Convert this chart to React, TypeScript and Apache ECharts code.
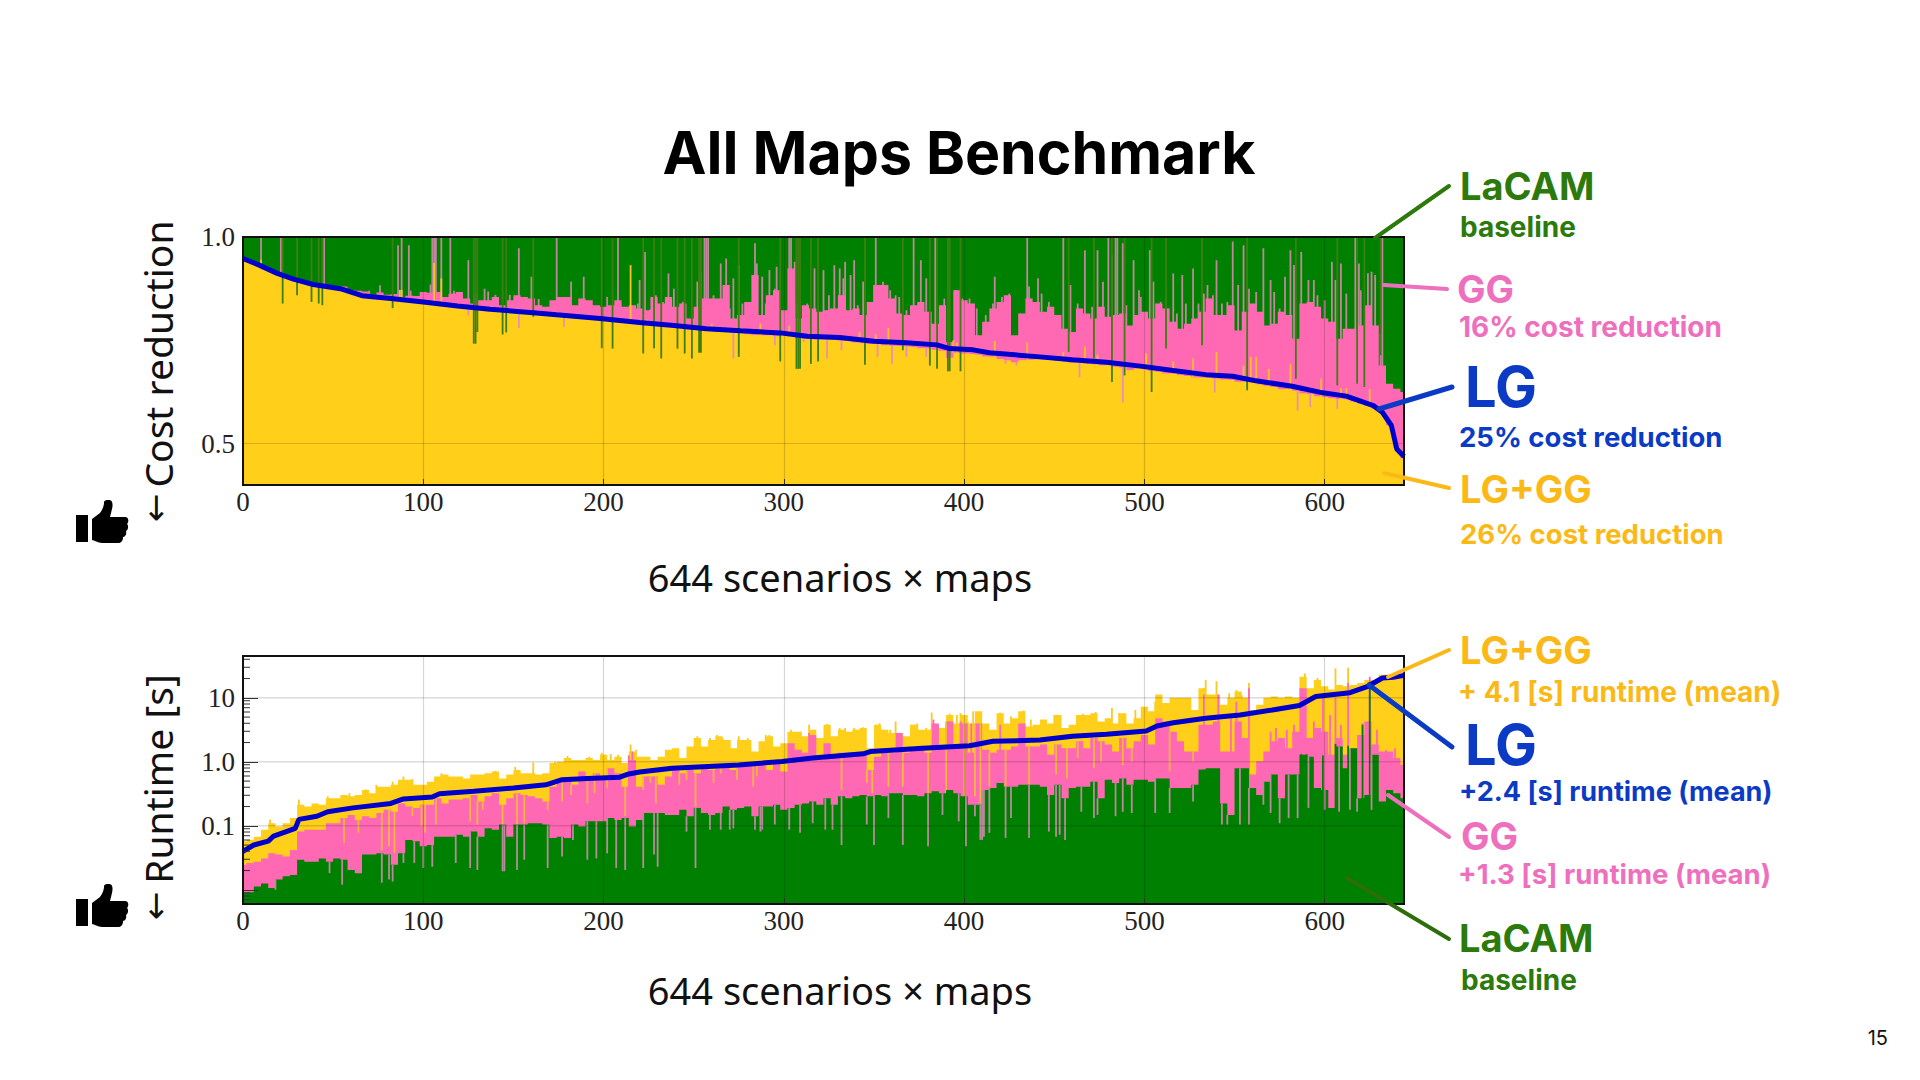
import React, { useEffect, useRef } from "react";
import * as echarts from "echarts";

const GREEN = "#008000";
const PINK = "#ff69b4";
const YELLOW = "#ffcf19";
const BLUE = "#0000cd";
const SAMPLE_STEP = 4;
const SCENARIOS = 644;

const xTickValues = [0, 100, 200, 300, 400, 500, 600];
const costTickValues = [0.5, 1.0];
const runtimeTickLabels = [0.1, 1, 10];
const runtimeMinorTicks = [
  0.007, 0.008, 0.009, 0.02, 0.03, 0.04, 0.05, 0.06, 0.07, 0.08, 0.09, 0.2, 0.3, 0.4, 0.5, 0.6, 0.7, 0.8, 0.9, 2, 3, 4, 5, 6, 7, 8, 9, 20, 30, 40,
];

// ---------- Cost reduction chart ----------
const costLacamX = [0, 644];
const costLacam = [1, 1];
const costGG = [
  0.945, 0.94, 0.935, 0.928, 0.918, 0.912, 0.905, 0.9, 0.895, 0.893, 0.885, 0.882, 0.88, 0.878, 0.88, 0.872, 0.87, 0.868, 0.86, 0.866, 0.86, 0.862, 0.855, 0.858, 0.857,
  0.867, 0.865, 0.867, 0.855, 0.863, 0.867, 0.851, 0.839, 0.847, 0.847, 0.855, 0.835, 0.847, 0.859, 0.855, 0.851, 0.835, 0.831, 0.847, 0.855, 0.855, 0.835, 0.851, 0.847, 0.835, 0.831, 0.835, 0.847, 0.831, 0.835, 0.827,
  0.823, 0.855, 0.839, 0.855, 0.831, 0.839, 0.803, 0.831, 0.851, 0.851, 0.851, 0.884, 0.803, 0.811, 0.843, 0.908, 0.811, 0.859, 0.871, 0.823, 0.924, 0.803, 0.835, 0.827, 0.819, 0.823, 0.827, 0.859, 0.823, 0.827, 0.811, 0.843, 0.884, 0.884, 0.851, 0.815, 0.811, 0.835, 0.843, 0.819, 0.79, 0.835, 0.746, 0.871, 0.847, 0.839, 0.762, 0.795, 0.827, 0.843, 0.859, 0.762, 0.815, 0.851, 0.843,
  0.819, 0.831, 0.811, 0.778, 0.77, 0.827, 0.815, 0.803, 0.831, 0.807, 0.811, 0.815, 0.786, 0.811, 0.819, 0.803, 0.839, 0.827, 0.795, 0.778, 0.79, 0.803, 0.819, 0.851, 0.811, 0.811, 0.835, 0.774, 0.819, 0.839, 0.819, 0.786, 0.79, 0.819, 0.811, 0.754, 0.839, 0.843, 0.831, 0.803, 0.795, 0.754, 0.778, 0.778, 0.786, 0.835, 0.786, 0.689, 0.645, 0.633, 0.625,
];
const costLGGG = [
  0.943, 0.938, 0.933, 0.925, 0.915, 0.908, 0.902, 0.897, 0.892, 0.887, 0.882, 0.878, 0.875, 0.872, 0.869, 0.866, 0.86, 0.853, 0.851, 0.849, 0.848, 0.846, 0.845, 0.844, 0.843,
  0.842, 0.84, 0.838, 0.836, 0.834, 0.832, 0.83, 0.828, 0.826, 0.825, 0.822, 0.82, 0.818, 0.818, 0.817, 0.816, 0.815, 0.813, 0.811, 0.808, 0.806, 0.805, 0.804, 0.803, 0.802, 0.8, 0.798, 0.797, 0.795, 0.793, 0.789,
  0.786, 0.786, 0.784, 0.782, 0.78, 0.779, 0.776, 0.775, 0.773, 0.772, 0.77, 0.77, 0.768, 0.767, 0.765, 0.763, 0.762, 0.762, 0.76, 0.762, 0.76, 0.755, 0.753, 0.752, 0.752, 0.752, 0.751, 0.749, 0.748, 0.745, 0.743, 0.741, 0.741, 0.738, 0.737, 0.736, 0.735, 0.734, 0.731, 0.73, 0.727, 0.725, 0.708, 0.72, 0.718, 0.717, 0.715, 0.711, 0.71, 0.705, 0.702, 0.697, 0.702, 0.703, 0.704,
  0.703, 0.703, 0.7, 0.699, 0.696, 0.697, 0.693, 0.692, 0.69, 0.691, 0.686, 0.684, 0.678, 0.682, 0.68, 0.676, 0.674, 0.67, 0.67, 0.666, 0.664, 0.66, 0.66, 0.66, 0.657, 0.655, 0.654, 0.65, 0.65, 0.648, 0.644, 0.64, 0.637, 0.632, 0.632, 0.628, 0.622, 0.62, 0.615, 0.613, 0.61, 0.608, 0.607, 0.602, 0.597, 0.592, 0.585, 0.574, 0.545, 0.49, 0.465,
];
const costLGX = [0, 9, 19, 28, 39, 54, 66, 82, 100, 119, 137, 161, 174, 198, 220, 239, 257, 276, 298, 313, 331, 350, 368, 385, 392, 405, 414, 442, 460, 479, 499, 516, 534, 549, 562, 582, 599, 612, 627, 632, 637, 640, 644];
const costLG = [0.948, 0.932, 0.912, 0.898, 0.885, 0.875, 0.858, 0.851, 0.843, 0.833, 0.825, 0.817, 0.812, 0.803, 0.793, 0.786, 0.778, 0.773, 0.768, 0.76, 0.757, 0.748, 0.744, 0.739, 0.73, 0.727, 0.72, 0.71, 0.703, 0.697, 0.687, 0.677, 0.667, 0.663, 0.652, 0.639, 0.623, 0.615, 0.592, 0.576, 0.544, 0.487, 0.469];
const costPinkUp = [
  [10, 1], [21, 1], [45, 1], [70, 0.87], [76, 0.883], [86, 0.98], [88, 1], [92, 0.98], [93, 0.87], [104, 0.885], [105, 1], [106, 1], [107, 1], [110, 1], [115, 1], [117, 0.87], [125, 0.944], [129, 0.859], [134, 0.875], [136, 0.868], [140, 0.86], [148, 0.86], [153, 0.973], [160, 0.904], [164, 0.85], [174, 1], [178, 0.85], [182, 0.892], [189, 0.904], [208, 1], [202, 0.855], [219, 0.839],
  [220, 0.896], [223, 0.964], [226, 0.825], [229, 0.859], [233, 0.843], [236, 0.912], [239, 0.875], [244, 0.843], [252, 0.892], [254, 0.916], [256, 1], [257, 1], [258, 1], [261, 0.859], [265, 0.936], [268, 0.948], [270, 0.827], [272, 0.9], [275, 0.932], [277, 0.839], [280, 0.839], [284, 0.985], [285, 0.936], [288, 0.904], [290, 0.839], [292, 0.92], [295, 0.875], [296, 0.928], [299, 0.819], [303, 1], [304, 1], [306, 0.94], [307, 0.839], [313, 0.839], [317, 0.924], [320, 0.819], [322, 0.92], [325, 0.859], [326, 0.827], [328, 0.932], [331, 0.924], [333, 0.9], [334, 0.94], [337, 0.908], [339, 0.944], [341, 0.835], [344, 0.892], [350, 0.884], [351, 1], [353, 0.884], [355, 0.892], [359, 0.871], [362, 0.859], [364, 0.855], [368, 0.823], [372, 1], [375, 0.839], [376, 0.944], [379, 0.9], [382, 0.79], [384, 1], [387, 0.79], [389, 0.851], [395, 0.871], [396, 0.871], [399, 0.851], [403, 0.851], [407, 0.827], [412, 0.811], [416, 0.839], [417, 0.904], [421, 0.855], [425, 0.863], [431, 0.815], [435, 1], [436, 0.88], [441, 0.9],
  [443, 0.863], [447, 0.843], [449, 0.827], [455, 1], [459, 0.884], [463, 0.839], [465, 0.823], [467, 0.968], [471, 0.831], [474, 0.968], [477, 0.892], [480, 1], [482, 0.956], [484, 1], [485, 1], [488, 0.985], [490, 0.835], [494, 0.944], [497, 0.871], [498, 0.855], [503, 0.968], [505, 0.892], [509, 0.843], [513, 0.827], [516, 0.912], [518, 0.815], [521, 0.908], [523, 0.839], [527, 0.924], [530, 0.839], [533, 0.863], [535, 0.884], [538, 0.859], [540, 0.944], [543, 0.839], [546, 0.843], [549, 0.989], [552, 0.884], [555, 0.98], [558, 0.875], [562, 0.867], [566, 0.973], [570, 0.896], [572, 0.867], [575, 0.827], [578, 0.904], [581, 0.968], [583, 0.932], [587, 0.964], [591, 0.896], [594, 0.896], [596, 0.859], [600, 0.847], [604, 0.94], [606, 0.896], [609, 0.936], [612, 0.863], [617, 1], [619, 0.936], [620, 0.871], [624, 0.912], [626, 0.916], [628, 0.908], [631, 0.766], [632, 1],
];
const costYellowUp = [
  [10, 0.945], [87, 0.872], [88, 0.872], [106, 0.937], [110, 0.9], [215, 0.932], [224, 0.8], [260, 0.79], [287, 0.79], [303, 0.785], [342, 0.77], [351, 0.765], [358, 0.78], [394, 0.75], [396, 0.745], [417, 0.748], [435, 0.745],
  [455, 0.722], [467, 0.735], [474, 0.715], [501, 0.718], [516, 0.699], [527, 0.706], [540, 0.722], [555, 0.689], [559, 0.71], [562, 0.71], [569, 0.681], [581, 0.693], [598, 0.657], [609, 0.634], [612, 0.634], [625, 0.632],
];
const costGreenDown = [
  [22, 0.839], [30, 0.859], [38, 0.843], [42, 0.839], [44, 0.835], [83, 0.828], [128, 0.742], [129, 0.742], [130, 0.77], [144, 0.764], [146, 0.769], [161, 0.807], [199, 0.731], [205, 0.73],
  [222, 0.718], [228, 0.731], [232, 0.706], [241, 0.73], [245, 0.718], [249, 0.706], [253, 0.72], [254, 0.72], [275, 0.71], [298, 0.699], [307, 0.681], [308, 0.681], [309, 0.681], [315, 0.693], [319, 0.699], [345, 0.691], [366, 0.726], [381, 0.689], [385, 0.681], [391, 0.675], [392, 0.675], [398, 0.675],
  [458, 0.722], [472, 0.706], [482, 0.649], [489, 0.665], [504, 0.625], [512, 0.73], [532, 0.738], [557, 0.629], [584, 0.657], [607, 0.641], [618, 0.645], [622, 0.637], [631, 0.714],
];
const costPinkDown = [
  [125, 0.81], [153, 0.78], [178, 0.782], [272, 0.706], [275, 0.718], [295, 0.738], [311, 0.746], [324, 0.706], [332, 0.726], [352, 0.71], [360, 0.693], [368, 0.71], [379, 0.71], [423, 0.693], [429, 0.689], [464, 0.661], [488, 0.6], [539, 0.624], [585, 0.58], [592, 0.588], [607, 0.584],
];

// ---------- Runtime chart (log10 of seconds) ----------
const runLGGGLog = [
  -1.24, -1.22, -1.17, -1.06, -0.96, -1.01, -0.96, -0.88, -0.67, -0.7, -0.65, -0.67, -0.57, -0.57, -0.52, -0.54, -0.52, -0.44, -0.49, -0.39, -0.39, -0.36, -0.28, -0.28, -0.36, -0.36, -0.31, -0.23, -0.2, -0.23, -0.23, -0.26, -0.2, -0.2, -0.18, -0.15, -0.26, -0.2, -0.13, -0.18, -0.18, -0.2, -0.18, -0.02, 0, 0.06, 0.03, 0.03, 0.06, 0.03, 0.11, 0.03, 0.08, -0.02, 0.16,
  0.08, 0.08, 0.03, 0.08, 0.19, 0.21, 0.06, 0.24, 0.37, 0.24, 0.34, 0.4, 0.34, 0.21, 0.34, 0.34, 0.16, 0.32, 0.4, 0.24, 0.29, 0.47, 0.47, 0.4, 0.5, 0.37, 0.58, 0.4, 0.5, 0.47, 0.5, 0.53, 0.21, 0.58, 0.5, 0.45, 0.45, 0.4, 0.58, 0.5, 0.5, 0.58, 0.53, 0.73, 0.6, 0.73, 0.6, 0.79, 0.6, 0.5, 0.76, 0.6, 0.68, 0.79, 0.55, 0.58,
  0.66, 0.6, 0.73, 0.53, 0.58, 0.73, 0.73, 0.76, 0.63, 0.68, 0.6, 0.76, 0.6, 0.68, 0.86, 0.79, 1.05, 0.92, 1, 1, 1, 0.81, 1.15, 1.05, 1.05, 0.89, 1, 1.1, 1, 0.81, 0.89, 1, 1.02, 1, 1.02, 1, 1.33, 1.15, 1.28, 1.18, 1.13, 1.2, 1.18, 1.2, 1.23, 1.28, 1.28, 1.36, 1.37, 1.36, 1.36,
];
const runGGLog = [
  -1.61, -1.58, -1.56, -1.51, -1.43, -1.45, -1.48, -1.38, -1.09, -1.06, -1.06, -1.06, -0.96, -0.96, -0.88, -0.83, -0.91, -0.85, -0.88, -0.8, -0.75, -0.78, -0.65, -0.7, -0.72, -0.67, -0.67, -0.57, -0.65, -0.59, -0.59, -0.57, -0.52, -0.62, -0.54, -0.49, -0.67, -0.57, -0.49, -0.52, -0.54, -0.57, -0.62, -0.39, -0.28, -0.28, -0.36, -0.15, -0.28, -0.18, -0.23, -0.1, -0.18, -0.39, 0.03,
  -0.39, -0.23, -0.23, -0.36, -0.23, -0.13, -0.18, -0.13, -0.18, -0.1, -0.13, -0.1, -0.07, -0.13, -0.07, -0.05, -0.07, -0.05, -0.13, 0.01, -0.15, 0.29, 0.19, 0.14, 0.42, 0.03, 0.29, 0.08, 0.14, 0.14, 0.14, 0.11, -0.13, 0.08, 0.14, 0.14, 0.45, 0.14, 0.19, 0.19, 0.14, 0.6, 0.24, 0.63, 0.24, 0.6, 0.14, 0.6, 0.19, 0.14, 0.19, 0.19, 0.24, 0.6, 0.24, 0.24,
  0.27, 0.11, 0.27, 0.21, 0.21, 0.32, 0.21, 0.37, 0.32, 0.27, 0.16, 0.37, 0.21, 0.32, 0.42, 0.27, 0.68, 0.63, 0.47, 0.32, 0.16, 0.16, 0.58, 0.58, 0.63, 0.16, 0.16, 0.63, 0.37, -0.2, 0.01, 0.16, 0.32, 0.37, 0.21, 0.47, 1.15, 0.37, 0.53, 0.47, 0.11, 0.37, 0.11, 0.21, 0.42, 0.63, 0.27, 0.16, 0.16, 0.06, -0.05,
];
const runLacamLog = [
  -2.05, -2.04, -1.95, -1.9, -1.97, -1.84, -1.79, -1.77, -1.53, -1.56, -1.56, -1.51, -1.56, -1.51, -1.53, -1.69, -1.74, -1.45, -1.45, -1.43, -1.45, -1.61, -1.43, -1.22, -1.24, -1.32, -1.3, -1.17, -1.17, -1.17, -1.14, -1.17, -1.09, -1.17, -1.04, -1.06, -0.98, -1.17, -0.98, -0.98, -0.96, -0.96, -0.98, -1.19, -1.17, -1.19, -0.98, -1.01, -0.93, -0.93, -0.93, -0.88, -0.91, -0.88, -1.01,
  -0.91, -0.8, -0.8, -0.8, -0.83, -0.83, -0.75, -0.85, -0.72, -0.8, -0.83, -0.8, -0.7, -0.75, -0.72, -0.7, -0.85, -0.7, -0.7, -0.67, -0.75, -0.72, -0.67, -0.65, -0.62, -0.67, -0.57, -0.67, -0.54, -0.57, -0.54, -0.52, -0.54, -0.52, -0.54, -0.49, -0.49, -0.52, -0.52, -0.54, -0.49, -0.46, -0.49, -0.44, -0.49, -0.54, -0.67, -0.67, -0.44, -0.41, -0.33, -0.39, -0.39, -0.36, -0.36, -0.36,
  -0.39, -0.52, -0.36, -0.57, -0.41, -0.39, -0.39, -0.31, -0.57, -0.28, -0.33, -0.26, -0.36, -0.28, -0.28, -0.31, -0.26, -0.26, -0.41, -0.41, -0.41, -0.36, -0.12, -0.1, -0.1, -0.65, -0.83, -0.1, -0.1, -0.41, -0.52, -0.31, -0.2, -0.57, -0.2, -0.2, 0.11, 0.08, -0.41, -0.44, -0.72, 0.24, -0.1, 0.21, -0.57, -0.52, 0.11, -0.62, -0.44, -0.49, -0.57,
];
const runLGX = [0, 6, 14, 17, 29, 31, 41, 47, 61, 82, 89, 105, 109, 128, 150, 168, 177, 191, 209, 214, 220, 238, 275, 299, 316, 344, 348, 377, 403, 416, 442, 460, 479, 501, 507, 516, 534, 553, 571, 586, 595, 614, 624, 632, 638, 644];
const runLGLog = [-1.4, -1.3, -1.24, -1.16, -1.04, -0.9, -0.85, -0.78, -0.72, -0.65, -0.58, -0.55, -0.5, -0.46, -0.41, -0.36, -0.28, -0.26, -0.24, -0.19, -0.16, -0.1, -0.05, 0.005, 0.06, 0.125, 0.16, 0.21, 0.25, 0.32, 0.34, 0.4, 0.43, 0.48, 0.56, 0.61, 0.68, 0.73, 0.81, 0.88, 1.02, 1.08, 1.18, 1.31, 1.32, 1.35];
const runYellowUpLog = [
  [15, -0.9], [31, -0.59], [47, -0.54], [59, -0.49], [68, -0.43], [74, -0.36], [83, -0.31], [89, -0.23], [94, -0.27], [110, -0.18], [140, -0.14], [151, -0.08], [161, -0.01], [173, 0], [180, 0.09], [192, 0.08], [199, 0.14], [204, 0.12], [208, 0.11], [215, 0.27], [218, 0.19],
  [252, 0.4], [259, 0.37], [263, 0.42], [266, 0.37], [270, 0.34], [275, 0.4], [280, 0.37], [290, 0.42], [292, 0.42], [304, 0.5], [309, 0.47], [314, 0.58], [317, 0.5], [324, 0.59], [331, 0.53], [334, 0.53], [339, 0.53], [344, 0.54], [353, 0.6], [359, 0.5], [362, 0.63], [372, 0.58], [374, 0.6], [379, 0.53], [382, 0.77], [385, 0.58], [392, 0.75], [396, 0.73], [398, 0.76], [402, 0.63], [405, 0.79], [409, 0.66], [420, 0.77], [426, 0.71], [433, 0.8], [437, 0.66],
  [450, 0.73], [453, 0.73], [466, 0.75], [473, 0.78], [482, 0.84], [486, 0.76], [495, 0.81], [499, 0.86], [506, 0.94], [509, 1.04], [515, 0.99], [524, 1], [533, 1.15], [534, 1.28], [540, 1.26], [547, 1.07], [551, 1.12], [554, 1.04], [558, 1.23], [589, 1.38], [596, 1.31], [606, 1.46], [613, 1.47],
];
const runPinkUpLog = [
  [214, 0.1], [216, 0.16], [314, 0.45], [383, 0.66], [392, 0.63], [398, 0.63], [404, 0.6], [420, 0.58], [533, 1.05], [541, 1.05], [548, 0.68], [551, 0.94], [558, 1.15], [570, 0.47], [573, 0.53], [579, 0.5], [583, 0.58], [594, 0.63], [599, 1], [603, 0.73], [606, 1], [609, 0.58], [613, 1.23], [621, 0.6], [625, 1.33], [629, 0.5], [634, 0.19], [639, 0.21],
];
const runOrangeDownLog = [
  [56, -1.27], [64, -1.11], [77, -1.38], [81, -1.32], [84, -1.43], [94, -0.85], [99, -1.01], [101, -1.11], [107, -0.98], [126, -0.93], [130, -0.98], [133, -0.75], [144, -1.14], [152, -1.01], [156, -0.96], [169, -0.75], [177, -0.62], [182, -0.52], [191, -0.65], [195, -0.49], [202, -0.41], [212, -0.85],
  [222, -0.44], [226, -0.33], [229, -0.65], [242, -0.36], [246, -0.28], [251, -0.7], [261, -0.33], [265, -0.18], [274, -0.28], [283, -0.39], [285, -0.23], [332, -0.44], [346, -0.33], [349, -0.49], [358, -0.39], [366, -0.39], [380, -0.59], [390, -0.67], [400, -0.65], [406, -0.54], [409, -0.65], [414, -0.39], [423, -0.44], [436, -0.49],
  [451, -0.2], [457, -0.26], [463, 0.06], [472, -0.1], [476, 0], [488, -0.05], [493, 0], [514, -0.15], [527, 0],
];
const runMauveDownLog = [
  [18, -2], [48, -1.74], [55, -1.92], [60, -1.64], [64, -1.69], [77, -1.89], [81, -1.84], [83, -1.87], [89, -1.58], [95, -1.58], [100, -1.66], [105, -1.64], [118, -1.58], [126, -1.66], [130, -1.69], [144, -1.71], [145, -1.71], [152, -1.69], [156, -1.53], [169, -1.66], [177, -1.48], [183, -1.22], [191, -1.53], [196, -1.51], [202, -1.43], [207, -1.66], [212, -1.69],
  [222, -1.66], [228, -1.45], [230, -1.64], [246, -1.09], [251, -1.66], [259, -1.06], [265, -1.06], [270, -1.06], [272, -1.04], [284, -1.06], [287, -1.09], [288, -1.06], [295, -0.98], [303, -1.06], [309, -1.11], [316, -0.96], [323, -1.06], [327, -1.06], [332, -1.3], [346, -0.98], [350, -1.3], [358, -0.88], [366, -1.3], [380, -1.32], [388, -0.83], [397, -0.93], [401, -1.32], [406, -0.85], [409, -1.22], [410, -1.22], [411, -1.17], [414, -1.11], [423, -1.19], [426, -0.88], [436, -1.19],
  [447, -1.09], [451, -1.17], [453, -1.14], [456, -1.22], [465, -0.78], [472, -0.88], [474, -0.83], [484, -0.85], [488, -0.78], [493, -0.8], [506, -0.8], [514, -0.8], [527, -0.62], [543, -0.98], [546, -0.98], [553, -0.98], [558, -0.98], [566, -0.67], [570, -0.8], [575, -0.96], [580, -0.88], [585, -0.88], [591, -0.72], [600, -0.75], [608, -0.78], [614, -0.75], [618, -0.78], [626, -0.75],
];
const runGreenUpLog = [[587, 0.12], [590, 0.12], [599, 0.1], [606, 0.28], [613, 0.25], [621, 0.58], [625, 1.25]];

// ---------- Texts ----------
const TITLE = "All Maps Benchmark";
const xLabel = "644 scenarios × maps";
const calloutColors = { green: "#2b7a0b", pink: "#ee6fbd", blue: "#0b3bc4", yellow: "#fbb917" };

echarts.graphic.registerShape(
  "thumb",
  echarts.graphic.extendPath(
    "M0 15 L12 15 L12 42 L0 42 Z M16 19 L24 13 C27 9 28 5 28 3 C28 0 30 0 33 0 C37 0 37 5 36 9 L34 17 L49 17 C53 17 53 22 51 24 C53 26 52 30 50 31 C51 34 49 37 47 37 C47 41 45 43 42 43 L26 43 C22 43 18 40 16 40 Z",
    {}
  )
);

const pow = (v: number) => Math.pow(10, v);
const bodyAt = (arr: number[], u: number) => arr[Math.min(arr.length - 1, Math.round(u / SAMPLE_STEP))];

function areaSeries(name: string, pts: number[][], color: string, axis: number, z: number) {
  return {
    name,
    type: "line",
    xAxisIndex: axis,
    yAxisIndex: axis,
    z,
    data: pts,
    step: "middle",
    showSymbol: false,
    symbol: "none",
    silent: true,
    lineStyle: { width: 0, color },
    itemStyle: { color },
    areaStyle: { color, opacity: 1, origin: axis === 1 ? 0.006 : "start" },
  };
}

function spikeSeries(name: string, data: number[][], color: string, axis: number, z: number, width = 1.8) {
  return {
    name,
    type: "custom",
    xAxisIndex: axis,
    yAxisIndex: axis,
    coordinateSystem: "cartesian2d",
    silent: true,
    z,
    data,
    encode: { x: 0, y: [1, 2] },
    renderItem: (_: any, api: any) => {
      const a = api.coord([api.value(0), api.value(1)]);
      const b = api.coord([api.value(0), api.value(2)]);
      return {
        type: "rect",
        shape: { x: a[0] - width / 2, y: Math.min(a[1], b[1]), width, height: Math.abs(a[1] - b[1]) },
        style: { fill: color },
      };
    },
  };
}

function frameSeries(name: string, axis: number) {
  return {
    name,
    type: "custom",
    xAxisIndex: axis,
    yAxisIndex: axis,
    coordinateSystem: "cartesian2d",
    silent: true,
    clip: false,
    z: 40,
    data: [[0, 1]],
    renderItem: (params: any) => ({
      type: "rect",
      shape: { x: params.coordSys.x, y: params.coordSys.y, width: params.coordSys.width, height: params.coordSys.height },
      style: { fill: "none", stroke: "#111", lineWidth: 2 },
    }),
  };
}

function hGridSeries(name: string, axis: number, values: number[]) {
  return {
    name,
    type: "custom",
    xAxisIndex: axis,
    yAxisIndex: axis,
    coordinateSystem: "cartesian2d",
    silent: true,
    z: 30,
    data: values.map((v) => [0, v]),
    encode: { x: 0, y: 1 },
    renderItem: (params: any, api: any) => {
      const p = api.coord([0, api.value(1)]);
      return {
        type: "rect",
        shape: { x: p[0], y: p[1] - 0.75, width: params.coordSys.width, height: 1.5 },
        style: { fill: "rgba(0,0,0,0.14)" },
      };
    },
  };
}

function minorTickSeries(values: number[]) {
  return {
    name: "minor ticks",
    type: "custom",
    xAxisIndex: 1,
    yAxisIndex: 1,
    coordinateSystem: "cartesian2d",
    silent: true,
    clip: false,
    z: 39,
    data: values.map((v) => [0, v]),
    encode: { x: 0, y: 1 },
    renderItem: (_: any, api: any) => {
      const p = api.coord([0, api.value(1)]);
      return { type: "rect", shape: { x: p[0], y: p[1] - 0.5, width: 7, height: 1 }, style: { fill: "#333" } };
    },
  };
}

function text(t: string, x: number, y: number, size: number, color: string, weight = 700, family = "Inter", extra: any = {}) {
  return {
    type: "text",
    x,
    y,
    z: 50,
    silent: true,
    ...extra,
    style: { text: t, fill: color, font: `${weight} ${size}px ${family}`, align: extra.align || "left", verticalAlign: "middle" },
  };
}

function pointer(x1: number, y1: number, x2: number, y2: number, color: string, w = 4) {
  return { type: "line", z: 49, silent: true, shape: { x1, y1, x2, y2 }, style: { stroke: color, lineWidth: w, lineCap: "round" } };
}

function thumb(x: number, y: number) {
  return { type: "thumb", x, y, z: 50, silent: true, style: { fill: "#000" } };
}

function buildOption() {
  const c = calloutColors;
  const toBody = (arr: number[], map = (v: number) => v) => arr.map((v, i) => [i * SAMPLE_STEP, map(v)]);
  const yMin = 0.4;
  const runMin = 0.006;
  const xAxisBase = (gridIndex: number) => ({
    type: "value",
    gridIndex,
    min: 0,
    max: SCENARIOS,
    z: 35,
    axisLine: { show: false },
    axisTick: { show: true, inside: true, length: 6, customValues: xTickValues, lineStyle: { color: "#333" } },
    axisLabel: { customValues: xTickValues, margin: 3, fontFamily: "Liberation Serif", fontSize: 27, color: "#222" },
    splitLine: { show: true, lineStyle: { color: "rgba(0,0,0,0.16)", width: 1.2 } },
  });
  return {
    animation: false,
    backgroundColor: "#fff",
    grid: [
      { left: 243, top: 237, width: 1161, height: 248 },
      { left: 243, top: 656, width: 1161, height: 248 },
    ],
    xAxis: [xAxisBase(0), xAxisBase(1)],
    yAxis: [
      {
        type: "value",
        gridIndex: 0,
        min: yMin,
        max: 1,
        z: 35,
        axisLine: { show: false },
        axisTick: { show: false, customValues: costTickValues },
        axisLabel: { customValues: costTickValues, margin: 8, fontFamily: "Liberation Serif", fontSize: 27, color: "#222", formatter: (v: number) => v.toFixed(1) },
        splitLine: { show: true, lineStyle: { color: "rgba(0,0,0,0.16)", width: 1.2 } },
      },
      {
        type: "log",
        gridIndex: 1,
        min: runMin,
        max: 45,
        logBase: 10,
        z: 35,
        axisLine: { show: false },
        axisTick: { show: true, inside: true, length: 15, lineStyle: { color: "#333" } },
        axisLabel: {
          margin: 8,
          fontFamily: "Liberation Serif",
          fontSize: 27,
          color: "#222",
          hideOverlap: false,
          formatter: (v: number) => {
            const m = runtimeTickLabels.find((t) => Math.abs(Math.log10(v) - Math.log10(t)) < 0.01);
            return m === undefined ? "" : m === 10 ? "10" : m.toFixed(1);
          },
        },
        splitLine: { show: false },
      },
    ],
    series: [
      areaSeries("LaCAM cost", costLacamX.map((x, i) => [x, costLacam[i]]), GREEN, 0, 2),
      spikeSeries("GG cost peaks", costPinkUp.map(([u, v]) => [u, yMin, v]), "#c0879c", 0, 3),
      areaSeries("GG cost", toBody(costGG), PINK, 0, 4),
      areaSeries("LG+GG cost", toBody(costLGGG), YELLOW, 0, 5),
      spikeSeries("LG+GG cost peaks", costYellowUp.map(([u, v]) => [u, bodyAt(costLGGG, u), v]), "#fcc02a", 0, 6),
      spikeSeries("GG cost dips", costPinkDown.map(([u, v]) => [u, v, bodyAt(costLGGG, u)]), "#e88fb4", 0, 7),
      spikeSeries("LaCAM cost dips", costGreenDown.map(([u, v]) => [u, v, 1]), "#3d7f12", 0, 8),
      {
        name: "LG cost",
        type: "line",
        xAxisIndex: 0,
        yAxisIndex: 0,
        z: 20,
        data: costLGX.map((x, i) => [x, costLG[i]]),
        showSymbol: false,
        symbol: "none",
        silent: true,
        lineStyle: { color: BLUE, width: 5 },
      },
      frameSeries("cost frame", 0),

      spikeSeries("LG+GG runtime peaks", runYellowUpLog.map(([u, v]) => [u, runMin, pow(v)]), "#fdc724", 1, 1),
      areaSeries("LG+GG runtime", toBody(runLGGGLog, pow), YELLOW, 1, 2),
      spikeSeries("GG runtime peaks", runPinkUpLog.map(([u, v]) => [u, runMin, pow(v)]), PINK, 1, 3),
      areaSeries("GG runtime", toBody(runGGLog, pow), PINK, 1, 4),
      spikeSeries("LG+GG runtime dips", runOrangeDownLog.map(([u, v]) => [u, pow(v), pow(bodyAt(runGGLog, u))]), "#f2b63c", 1, 5),
      spikeSeries("LaCAM runtime peaks", runGreenUpLog.map(([u, v]) => [u, runMin, pow(v)]), GREEN, 1, 6),
      areaSeries("LaCAM runtime", toBody(runLacamLog, pow), GREEN, 1, 7),
      spikeSeries("GG runtime dips", runMauveDownLog.map(([u, v]) => [u, pow(v), pow(bodyAt(runLacamLog, u))]), "#b98a9c", 1, 8),
      {
        name: "LG runtime",
        type: "line",
        xAxisIndex: 1,
        yAxisIndex: 1,
        z: 20,
        data: runLGX.map((x, i) => [x, pow(runLGLog[i])]),
        showSymbol: false,
        symbol: "none",
        silent: true,
        lineStyle: { color: BLUE, width: 5 },
      },
      hGridSeries("runtime grid", 1, runtimeTickLabels),
      frameSeries("runtime frame", 1),
      minorTickSeries(runtimeMinorTicks),
    ],
    graphic: [
      text(TITLE, 959, 152, 59, "#000", 700, "Inter", { align: "center" }),
      text(xLabel, 840, 577, 38, "#111", 400, "Noto Sans", { align: "center" }),
      text(xLabel, 840, 990, 38, "#111", 400, "Noto Sans", { align: "center" }),
      text("Cost reduction", 157, 354, 39, "#111", 400, "Noto Sans", { align: "center", rotation: Math.PI / 2 }),
      text("←", 155, 508, 34, "#111", 400, "DejaVu Sans", { align: "center", rotation: Math.PI / 2 }),
      text("Runtime [s]", 157, 779, 39, "#111", 400, "Noto Sans", { align: "center", rotation: Math.PI / 2 }),
      text("←", 155, 906, 34, "#111", 400, "DejaVu Sans", { align: "center", rotation: Math.PI / 2 }),
      thumb(76, 500),
      thumb(76, 884),
      text("15", 1888, 1038, 20, "#111", 400, "Inter", { align: "right" }),

      pointer(1449, 186, 1375, 238, c.green),
      text("LaCAM", 1460, 186, 38, c.green),
      text("baseline", 1460, 227, 28, c.green),
      pointer(1447, 289, 1384, 285, c.pink),
      text("GG", 1457, 289, 38, c.pink),
      text("16% cost reduction", 1459, 327, 28, c.pink),
      pointer(1452, 387, 1379, 409, c.blue, 5),
      text("LG", 1465, 387, 56, c.blue),
      text("25% cost reduction", 1459, 437, 27.5, c.blue),
      pointer(1449, 488, 1384, 473, c.yellow),
      text("LG+GG", 1460, 489, 38, c.yellow),
      text("26% cost reduction", 1460, 534, 27.5, c.yellow),

      pointer(1449, 650, 1388, 677, c.yellow),
      text("LG+GG", 1460, 650, 38, c.yellow),
      text("+ 4.1 [s] runtime (mean)", 1458, 692, 28, c.yellow),
      pointer(1452, 747, 1369, 685, c.blue, 5),
      text("LG", 1465, 745, 56, c.blue),
      text("+2.4 [s] runtime (mean)", 1459, 791, 27, c.blue),
      pointer(1449, 837, 1388, 795, c.pink),
      text("GG", 1461, 836, 38, c.pink),
      text("+1.3 [s] runtime (mean)", 1458, 874, 27.5, c.pink),
      pointer(1449, 939, 1347, 878, "#2c6e0c"),
      text("LaCAM", 1459, 938, 38, c.green),
      text("baseline", 1461, 980, 28, c.green),
    ],
  };
}

export default function App() {
  const ref = useRef<HTMLDivElement>(null);
  useEffect(() => {
    document.body.style.margin = "0";
    const chart = echarts.init(ref.current!, undefined, { renderer: "svg" });
    chart.setOption(buildOption() as any);
    return () => chart.dispose();
  }, []);
  return <div ref={ref} style={{ position: "absolute", left: 0, top: 0, width: 1920, height: 1080 }} />;
}
